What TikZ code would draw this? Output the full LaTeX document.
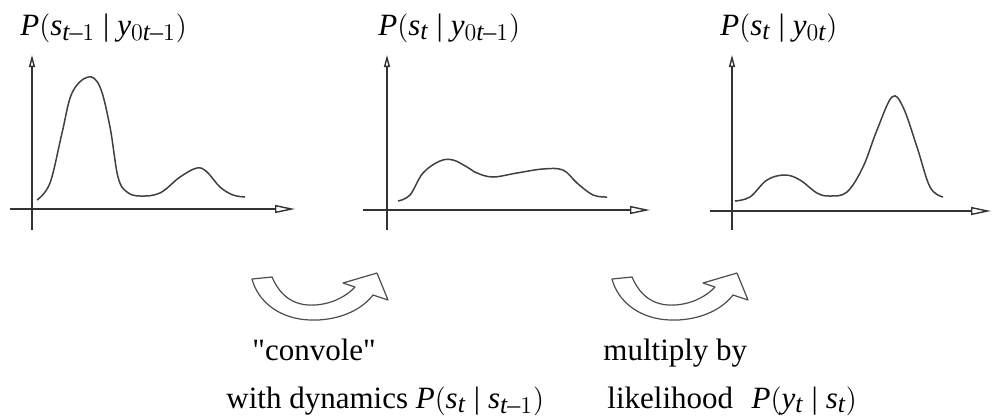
\documentclass[tikz,border=0pt]{standalone}
\usepackage{fontspec}
\setmainfont{Liberation Serif}
\usepackage[italic]{mathastext}
\usetikzlibrary{arrows.meta}

\tikzset{
  axis line/.style={line width=0.7pt, black!80},
  xaxis/.style={axis line, -{Triangle[open, length=10pt, width=4pt]}},
  yaxis/.style={axis line, -{Triangle[open, length=6pt, width=3pt]}},
  density/.style={line width=0.75pt, black!75, smooth, tension=0.6},
  bend arrow/.style={draw=black!70, fill=white, line width=0.6pt, line join=round},
}

\begin{document}
\begin{tikzpicture}[x=0.5pt, y=-0.5pt,
      lbl/.style={font=\fontsize{15.5}{18}\selectfont, inner sep=0, anchor=base west},
    ]
    \useasboundingbox (0,0) rectangle (993,419);

    % ======== AXES ========
    \foreach \ax/\ay/\xl/\xr in {32/209/10/295, 387/210/363/650, 732/211/710/991} {
      \draw[yaxis] (\ax,230) -- (\ax,55);
      \draw[xaxis] (\xl,\ay) -- (\xr,\ay);
    }

    % ======== DENSITIES ========
    % prior at t-1: big peak left, small bump right
    \draw[density] plot coordinates {(37,200) (50,183) (62,133) (72,93) (88,77)
      (100,87) (110,127) (118,177) (127,192) (140,196) (160,193) (180,177)
      (197,168) (207,172) (220,187) (233,195) (245,197)};
    % predicted: flattened
    \draw[density] plot coordinates {(398,201) (410,195) (423,173) (440,161)
      (453,160) (467,167) (477,173) (493,177) (517,173) (543,169) (563,170)
      (577,183) (593,195) (607,197)};
    % posterior: peak moved right
    \draw[density] plot coordinates {(735,201) (750,197) (767,180) (785,175)
      (800,180) (817,193) (830,196) (847,192) (863,167) (877,130) (892,97)
      (903,107) (917,147) (930,187) (943,197)};

    % ======== TITLES ========
    \node[lbl] (ttl1) at (20,35)  {$P(s_{t-1}\mid y_{0t-1})$};
    \node[lbl] (ttl2) at (378,35) {$P(s_t\mid y_{0t-1})$};
    \node[lbl] (ttl3) at (720,35) {$P(s_t\mid y_{0t})$};

    % ======== BENT ARROWS ========
    \foreach \dx in {0,360} {
      \draw[bend arrow, shift={(\dx,0)}]
        (252,279) -- (272,277)
        .. controls (282,300) and (298,306) .. (315,305)
        .. controls (333,304) and (348,295) .. (355,287)
        -- (343,283) -- (377,273) -- (388,300) -- (373,295)
        .. controls (360,312) and (335,321) .. (310,320)
        .. controls (280,319) and (258,302) .. cycle;
    }

    % ======== CAPTIONS ========
    \node[lbl] (conv1) at (252,360) {\addfontfeature{Ligatures=TeXOff}"convole"};
    \node[lbl] (conv2) at (226,408) {with dynamics $P(s_t\mid s_{t-1})$};
    \node[lbl] (mult1) at (603,360) {multiply by};
    \node[lbl] (mult2) at (607,408) {likelihood\hspace{0.6em}$P(y_t\mid s_t)$};

  \end{tikzpicture}
\end{document}
